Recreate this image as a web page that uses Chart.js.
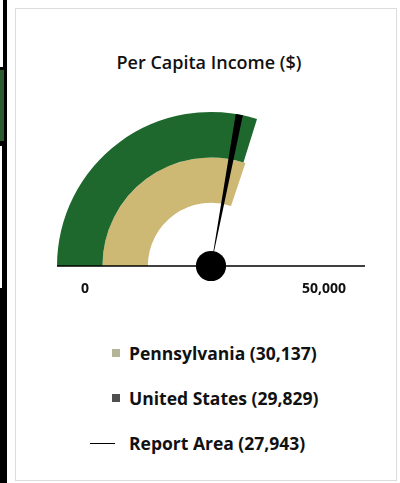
<!DOCTYPE html>
<html>
<head>
<meta charset="utf-8">
<script src="https://cdn.jsdelivr.net/npm/chart.js@4.4.0/dist/chart.umd.min.js"></script>
<style>
  body { margin: 0; width: 400px; height: 483px; background: #fff; position: relative; overflow: hidden;
         font-family: "Open Sans", sans-serif; color: #111; }
  .blk { position: absolute; }
  #panel { position: absolute; left: 15px; top: 8px; width: 380px; height: 471px; border: 1px solid #dcdcdc; }
  #title { position: absolute; left: 0; top: 50px; width: 418px; text-align: center; font-weight: 600; font-size: 18px; }
  canvas { position: absolute; left: 30px; top: 100px; }
  .item { position: absolute; left: 129px; font-weight: 700; font-size: 17.5px; line-height: 20px; white-space: nowrap; }
  .swatch { position: absolute; width: 8px; height: 8px; left: -17px; top: 6px; }
  .dash { position: absolute; width: 25px; height: 1px; left: -39px; top: 10px; background: #000; }
</style>
</head>
<body>
<!-- neighbouring frame strip on the left -->
<div class="blk" style="left:0;top:0;width:7px;height:483px;background:#000"></div>
<div class="blk" style="left:0;top:0;width:3px;height:67px;background:#fff"></div>
<div class="blk" style="left:0;top:70px;width:4px;height:71px;background:#2b5a2c"></div>
<div class="blk" style="left:0;top:146px;width:2px;height:142px;background:#fff"></div>

<div id="panel"></div>
<div id="title">Per Capita Income ($)</div>
<canvas id="rings" width="360" height="210"></canvas>
<canvas id="needle" width="360" height="210"></canvas>
<div id="legend"></div>

<script>
// gauge values
const seriesNames = ['Pennsylvania', 'United States', 'Report Area'];
const seriesValues = [30137, 29829, 27943];
const scaleTicks = [0, 50000];

const green = '#1e682d';
const tan = '#cdb874';
const swatchColors = ['#b3b596', '#4f4f4f'];
const needleWidth = 750;
const clear = 'rgba(0,0,0,0)';

const maxValue = scaleTicks[scaleTicks.length - 1];
const [paValue, usValue, reportValue] = seriesValues;

// both canvases share this so the rings and the needle line up
const gaugeOptions = {
    responsive: false,
    animation: false,
    events: [],
    rotation: -90,
    circumference: 180,
    borderWidth: 0,
    hoverOffset: 0,
    layout: { padding: { left: 27, right: 25, top: 12, bottom: 44 } },
    plugins: { legend: { display: false }, tooltip: { enabled: false } }
};

new Chart(document.getElementById('rings'), {
    type: 'doughnut',
    data: {
        datasets: [
            { data: [usValue, maxValue - usValue], backgroundColor: [green, clear] },
            { data: [paValue, maxValue - paValue], backgroundColor: [tan, clear] }
        ]
    },
    options: { ...gaugeOptions, cutout: '41%' }
});

const needleDecor = {
    id: 'needleDecor',
    afterDatasetsDraw(chart) {
        const arc = chart.getDatasetMeta(0).data[1];
        const { x, y, outerRadius } = arc;
        const ctx = chart.ctx;
        ctx.save();
        // base line
        ctx.strokeStyle = '#000';
        ctx.lineWidth = 1.3;
        ctx.beginPath();
        ctx.moveTo(x - outerRadius, y);
        ctx.lineTo(x + outerRadius, y);
        ctx.stroke();
        // hub
        ctx.fillStyle = '#000';
        ctx.beginPath();
        ctx.arc(x, y, outerRadius * 0.098, 0, Math.PI * 2);
        ctx.fill();
        // scale end labels
        ctx.font = '700 14px "Open Sans"';
        ctx.fillStyle = '#111';
        ctx.textBaseline = 'middle';
        ctx.textAlign = 'center';
        ctx.fillText(scaleTicks[0].toLocaleString('en-US'), x - outerRadius + 28, y + 23);
        ctx.textAlign = 'right';
        ctx.fillText(scaleTicks[1].toLocaleString('en-US'), x + outerRadius - 19, y + 23);
        ctx.restore();
    }
};

new Chart(document.getElementById('needle'), {
    type: 'pie',
    data: {
        datasets: [{
            data: [reportValue - needleWidth / 2, needleWidth, maxValue - reportValue - needleWidth / 2],
            backgroundColor: [clear, '#000', clear]
        }]
    },
    options: { ...gaugeOptions, cutout: 0 },
    plugins: [needleDecor]
});

// legend rows
const legend = document.getElementById('legend');
const rowTops = [343, 388, 433];
seriesNames.forEach((name, i) => {
    const row = document.createElement('div');
    row.className = 'item';
    row.style.top = rowTops[i] + 'px';
    const mark = i < 2
        ? `<span class="swatch" style="background:${swatchColors[i]}"></span>`
        : '<span class="dash"></span>';
    row.innerHTML = mark + `${name} (${seriesValues[i].toLocaleString('en-US')})`;
    legend.appendChild(row);
});
</script>
</body>
</html>
